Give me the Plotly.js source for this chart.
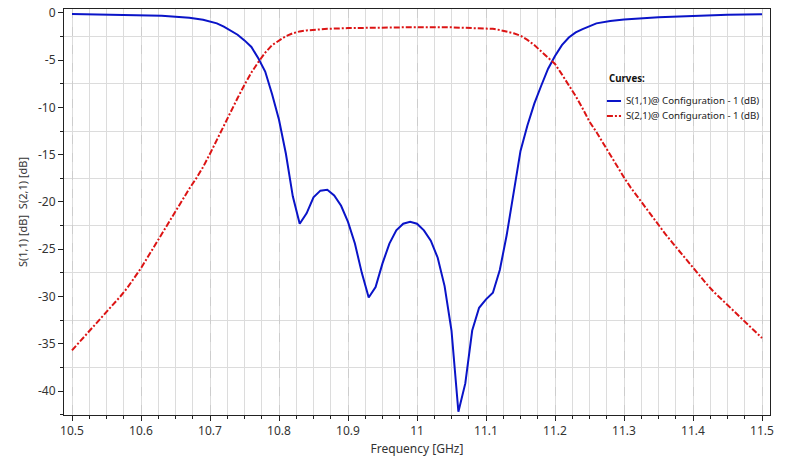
<!DOCTYPE html>
<html>
<head>
<meta charset="utf-8">
<script src="https://cdn.plot.ly/plotly-3.0.1.min.js"></script>
<style>html,body{margin:0;padding:0;background:#fff;}#chart{width:800px;height:461px;}</style>
</head>
<body>
<div id="chart"></div>
<script>
// S(1,1) samples
const s11Freq = [10.50,10.55,10.60,10.63,10.65,10.67,10.69,10.70,10.71,10.72,10.73,10.74,10.75,10.76,10.77,10.78,10.79,10.80,10.81,10.82,10.83,10.84,10.85,10.86,10.87,10.88,10.89,10.90,10.91,10.92,10.93,10.94,10.95,10.96,10.97,10.98,10.99,11.00,11.01,11.02,11.03,11.04,11.05,11.06,11.07,11.08,11.09,11.10,11.11,11.12,11.13,11.14,11.15,11.16,11.17,11.18,11.19,11.20,11.21,11.22,11.23,11.24,11.26,11.28,11.30,11.35,11.40,11.45,11.50];
const s11dB = [-0.10,-0.15,-0.22,-0.30,-0.40,-0.50,-0.72,-0.90,-1.10,-1.45,-1.85,-2.30,-2.90,-3.60,-4.80,-6.20,-8.60,-11.30,-14.90,-19.40,-22.30,-21.20,-19.50,-18.80,-18.70,-19.30,-20.40,-22.10,-24.40,-27.50,-30.10,-29.00,-26.50,-24.40,-23.00,-22.30,-22.10,-22.30,-23.00,-24.10,-25.90,-28.90,-33.60,-42.20,-39.20,-33.60,-31.20,-30.30,-29.60,-27.20,-23.50,-19.00,-14.60,-11.90,-9.60,-7.70,-5.90,-4.55,-3.40,-2.60,-2.05,-1.70,-1.10,-0.85,-0.70,-0.45,-0.30,-0.20,-0.13];

// S(2,1) samples
const s21Freq = [10.50,10.51,10.52,10.53,10.54,10.55,10.56,10.57,10.58,10.59,10.60,10.61,10.62,10.63,10.64,10.65,10.66,10.67,10.68,10.69,10.70,10.71,10.72,10.73,10.74,10.75,10.76,10.77,10.78,10.79,10.80,10.81,10.82,10.83,10.84,10.85,10.87,10.90,10.95,11.00,11.05,11.08,11.10,11.11,11.12,11.13,11.14,11.15,11.16,11.17,11.18,11.19,11.20,11.21,11.22,11.23,11.24,11.25,11.26,11.27,11.28,11.29,11.30,11.31,11.32,11.33,11.34,11.35,11.36,11.37,11.38,11.39,11.40,11.41,11.42,11.43,11.44,11.45,11.46,11.47,11.48,11.49,11.50];
const s21dB = [-35.7,-34.9,-34.1,-33.2,-32.4,-31.6,-30.8,-30.0,-29.1,-28.1,-27.0,-25.8,-24.6,-23.4,-22.1,-20.9,-19.7,-18.6,-17.5,-16.3,-14.9,-13.4,-12.0,-10.5,-9.0,-7.6,-6.3,-5.2,-4.2,-3.4,-2.9,-2.45,-2.15,-1.95,-1.85,-1.78,-1.68,-1.60,-1.52,-1.50,-1.52,-1.58,-1.62,-1.68,-1.80,-1.95,-2.15,-2.40,-2.85,-3.40,-4.10,-4.70,-5.40,-6.50,-7.60,-8.80,-10.1,-11.5,-12.6,-13.8,-15.0,-16.3,-17.4,-18.5,-19.5,-20.5,-21.5,-22.4,-23.4,-24.3,-25.2,-26.1,-27.0,-27.9,-28.7,-29.5,-30.2,-30.9,-31.6,-32.3,-33.0,-33.7,-34.4];

const xTickVals = [10.5,10.6,10.7,10.8,10.9,11,11.1,11.2,11.3,11.4,11.5];
const xTickText = ['10.5','10.6','10.7','10.8','10.9','11','11.1','11.2','11.3','11.4','11.5'];
const yTickVals = [0,-5,-10,-15,-20,-25,-30,-35,-40];
const yTickText = ['0','-5','-10','-15','-20','-25','-30','-35','-40'];

const seriesNames = ['S(1,1)@ Configuration - 1 (dB)','S(2,1)@ Configuration - 1 (dB)'];
const seriesColors = ['#0a14c8','#dc1414'];
const seriesDash = ['solid','6px,2px,2px,2px'];
const legendTitle = 'Curves:';

const font = 'Noto Sans, Open Sans, sans-serif';

const traces = [
  {x: s11Freq, y: s11dB, type:'scatter', mode:'lines', name: seriesNames[0],
   line:{color:seriesColors[0], width:2, dash:seriesDash[0]}},
  {x: s21Freq, y: s21dB, type:'scatter', mode:'lines', name: seriesNames[1],
   line:{color:seriesColors[1], width:2, dash:seriesDash[1]}}
];

// custom compact legend (paper coordinates)
const legX0 = 0.769, legX1 = 0.789, legTextX = 0.7935;
const legRowY = [0.7734, 0.7365];
const shapes = [], annotations = [];
annotations.push({xref:'paper', yref:'paper', x:0.769, y:0.8276, xanchor:'left', yanchor:'middle',
  text:'<b>'+legendTitle+'</b>', showarrow:false, font:{family:font, size:9.7, color:'#111'}});
seriesNames.forEach((n,i)=>{
  shapes.push({type:'line', xref:'paper', yref:'paper', x0:legX0, x1:legX1, y0:legRowY[i], y1:legRowY[i],
    line:{color:seriesColors[i], width:2, dash:seriesDash[i]}});
  annotations.push({xref:'paper', yref:'paper', x:legTextX, y:legRowY[i], xanchor:'left', yanchor:'middle',
    text:n, showarrow:false, font:{family:font, size:9.7, color:'#222'}});
});

const layout = {
  width:800, height:461,
  margin:{l:64, r:30, t:9, b:46},
  paper_bgcolor:'#fff', plot_bgcolor:'#fff',
  font:{family:font, color:'#333', size:12},
  showlegend:false,
  shapes: shapes,
  annotations: annotations,
  xaxis:{
    range:[10.4884, 11.5116], tickmode:'array', tickvals:xTickVals, ticktext:xTickText,
    showline:true, linecolor:'#222', linewidth:1, mirror:true,
    ticks:'outside', ticklen:5, tickcolor:'#222', tickfont:{size:12, color:'#333'},
    showgrid:true, gridcolor:'#cdcdcd', griddash:'dash', gridwidth:1,
    zeroline:false,
    minor:{tickmode:'linear', tick0:10.5, dtick:0.025, ticks:'outside', ticklen:3, tickcolor:'#222',
           showgrid:true, gridcolor:'#dcdcdc', griddash:'solid', gridwidth:1},
    title:{text:'Frequency [GHz]', font:{size:12, color:'#333'}, standoff:6}
  },
  yaxis:{
    range:[-42.54, 0.42], tickmode:'array', tickvals:yTickVals, ticktext:yTickText,
    showline:true, linecolor:'#222', linewidth:1, mirror:true,
    ticks:'outside', ticklen:5, tickcolor:'#222', tickfont:{size:12, color:'#333'},
    showgrid:false, zeroline:false,
    minor:{tickmode:'linear', tick0:-2.5, dtick:5, ticks:'outside', ticklen:3, tickcolor:'#222',
           showgrid:true, gridcolor:'#dcdcdc', griddash:'solid', gridwidth:1},
    title:{text:'S(1,1) [dB]&nbsp;&nbsp;S(2,1) [dB]', font:{size:11, color:'#333'}, standoff:8}
  }
};

Plotly.newPlot('chart', traces, layout, {displayModeBar:false, staticPlot:true});
</script>
</body>
</html>
